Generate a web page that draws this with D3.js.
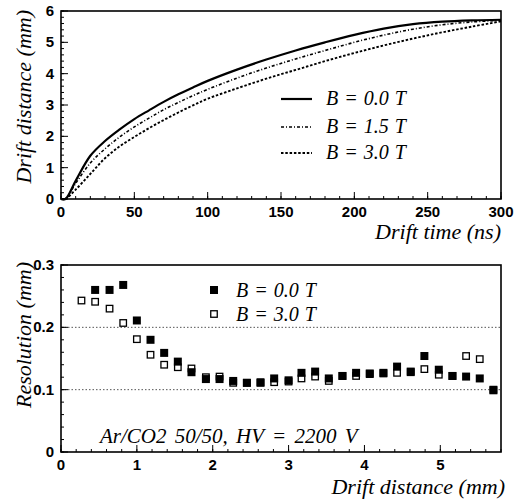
<!DOCTYPE html>
<html><head><meta charset="utf-8">
<script src="https://cdn.jsdelivr.net/npm/d3@7"></script>
<style>body{margin:0;background:#fff}svg{display:block}</style>
</head><body>
<script>
// ---- Top panel data: drift distance vs drift time ----
const driftTime = [0,3,10,20,30,40,50,60,70,80,90,100,120,140,160,180,200,220,240,260,280,300];
const distB00 = [0,0,0.58,1.38,1.85,2.22,2.55,2.83,3.10,3.34,3.56,3.77,4.13,4.45,4.74,5.00,5.24,5.44,5.58,5.66,5.70,5.72];
const distB15 = [0,0,0.50,1.15,1.60,1.98,2.30,2.58,2.85,3.08,3.30,3.50,3.86,4.18,4.47,4.74,5.00,5.23,5.42,5.56,5.65,5.70];
const distB30 = [0,0,0.30,0.80,1.30,1.68,1.98,2.26,2.52,2.76,2.99,3.20,3.53,3.84,4.12,4.40,4.66,4.90,5.12,5.32,5.50,5.67];
const topLegend = ["B = 0.0 T","B = 1.5 T","B = 3.0 T"];
const topXTicks = [0,50,100,150,200,250,300];
const topYTicks = [0,1,2,3,4,5,6];

// ---- Bottom panel data: resolution vs drift distance ----
const resDist = [0.27,0.45,0.64,0.82,1.00,1.18,1.36,1.54,1.72,1.91,2.09,2.27,2.45,2.63,2.81,3.00,3.17,3.35,3.53,3.71,3.89,4.07,4.25,4.43,4.61,4.79,4.98,5.16,5.34,5.52,5.70];
const resB00 = [null,0.260,0.260,0.268,0.211,0.180,0.159,0.145,0.128,0.117,0.117,0.114,0.111,0.111,0.118,0.115,0.127,0.129,0.118,0.122,0.127,0.126,0.127,0.137,0.129,0.154,0.132,0.122,0.121,0.118,0.099];
const resB30 = [0.243,0.241,0.230,0.207,0.181,0.156,0.140,0.136,0.134,0.120,0.121,0.111,0.111,0.112,0.112,0.113,0.118,0.121,0.114,0.122,0.122,0.125,0.126,0.127,0.128,0.133,0.124,0.122,0.154,0.149,0.100];
const botLegend = ["B = 0.0 T","B = 3.0 T"];
const botXTicks = [0,1,2,3,4,5];
const botYTicks = [0,0.1,0.2,0.3];
const botYLabels = ["0","0.1","0.2","0.3"];
const annotation = "Ar/CO2 50/50, HV = 2200 V";

const W = 522, H = 500;
const svg = d3.select("body").append("svg").attr("width", W).attr("height", H);
const serif = "'Liberation Serif','Times New Roman',serif";
const sans = "'Liberation Sans',Arial,sans-serif";

function frame(x, y) {
  const [x0, x1] = x.range(), [y0, y1] = y.range();
  svg.append("rect").attr("x", x0).attr("y", y1).attr("width", x1 - x0).attr("height", y0 - y1)
    .attr("fill", "none").attr("stroke", "#000").attr("stroke-width", 1.6);
}
function ticksAxis(x, y, xMajor, xMinorStep, yMajor, yMinorStep, yFmt) {
  const [x0, x1] = x.range(), [y0, y1] = y.range();
  const g = svg.append("g").attr("stroke", "#000").attr("stroke-width", 1);
  const xd = x.domain(), yd = y.domain();
  for (let v = xd[0]; v <= xd[1] + 1e-9; v += xMinorStep) {
    g.append("line").attr("x1", x(v)).attr("x2", x(v)).attr("y1", y0).attr("y2", y0 - 3);
  }
  xMajor.forEach(v => g.append("line").attr("x1", x(v)).attr("x2", x(v)).attr("y1", y0).attr("y2", y0 - 7));
  for (let v = yd[0]; v <= yd[1] + 1e-9; v += yMinorStep) {
    g.append("line").attr("x1", x0).attr("x2", x0 + 3).attr("y1", y(v)).attr("y2", y(v));
  }
  yMajor.forEach(v => g.append("line").attr("x1", x0).attr("x2", x0 + 7).attr("y1", y(v)).attr("y2", y(v)));
  svg.append("g").selectAll("text").data(xMajor).join("text")
    .attr("x", d => x(d)).attr("y", y0 + 18).attr("text-anchor", "middle")
    .attr("font-family", sans).attr("font-weight", "bold").attr("font-size", 15)
    .text(d => d);
  svg.append("g").selectAll("text").data(yMajor).join("text")
    .attr("x", x0 - 7).attr("y", d => y(d) + 5).attr("text-anchor", "end")
    .attr("font-family", sans).attr("font-weight", "bold").attr("font-size", 15)
    .text((d, i) => yFmt ? yFmt[i] : d);
}

// ---------- Top panel ----------
const xT = d3.scaleLinear().domain([0, 300]).range([61, 501]);
const yT = d3.scaleLinear().domain([0, 6]).range([199, 11]);
const lineT = arr => d3.line().x((d, i) => xT(driftTime[i])).y(d => yT(d)).curve(d3.curveCatmullRom.alpha(0.5))(arr);
const styles = [
  {dash: null, w: 2.2},
  {dash: "3,2,1,2", w: 1.6},
  {dash: "2.5,1.8", w: 1.9}
];
[distB00, distB15, distB30].forEach((arr, k) => {
  svg.append("path").attr("d", lineT(arr)).attr("fill", "none").attr("stroke", "#000")
    .attr("stroke-width", styles[k].w).attr("stroke-dasharray", styles[k].dash);
});
frame(xT, yT);
ticksAxis(xT, yT, topXTicks, 10, topYTicks, 0.2);
const legY = [99, 127, 153];
topLegend.forEach((t, k) => {
  svg.append("line").attr("x1", 281).attr("x2", 312).attr("y1", legY[k]).attr("y2", legY[k])
    .attr("stroke", "#000").attr("stroke-width", styles[k].w).attr("stroke-dasharray", styles[k].dash);
  svg.append("text").attr("x", 326).attr("y", legY[k] + 6).attr("font-family", serif)
    .attr("font-style", "italic").attr("font-size", 20).attr("word-spacing", 1).text(t);
});
svg.append("text").attr("x", 501).attr("y", 239).attr("text-anchor", "end")
  .attr("font-family", serif).attr("font-style", "italic").attr("font-size", 22).text("Drift time (ns)");
svg.append("text").attr("transform", "translate(31,10) rotate(-90)").attr("text-anchor", "end")
  .attr("font-family", serif).attr("font-style", "italic").attr("font-size", 22).text("Drift distance (mm)");

// ---------- Bottom panel ----------
const xB = d3.scaleLinear().domain([0, 5.8]).range([61, 501]);
const yB = d3.scaleLinear().domain([0, 0.3]).range([452, 265]);
[0.1, 0.2].forEach(v => svg.append("line").attr("x1", xB(0)).attr("x2", xB(5.8)).attr("y1", yB(v)).attr("y2", yB(v))
  .attr("stroke", "#555").attr("stroke-width", 1).attr("stroke-dasharray", "1.5,2"));
const pts30 = resDist.map((d, i) => [d, resB30[i]]).filter(p => p[1] != null);
const pts00 = resDist.map((d, i) => [d, resB00[i]]).filter(p => p[1] != null);
const so = 6.5, sf = 8;
svg.append("g").selectAll("rect").data(pts30).join("rect")
  .attr("x", d => xB(d[0]) - so / 2).attr("y", d => yB(d[1]) - so / 2).attr("width", so).attr("height", so)
  .attr("fill", "#fff").attr("stroke", "#000").attr("stroke-width", 1.3);
svg.append("g").selectAll("rect").data(pts00).join("rect")
  .attr("x", d => xB(d[0]) - sf / 2).attr("y", d => yB(d[1]) - sf / 2).attr("width", sf).attr("height", sf)
  .attr("fill", "#000");
frame(xB, yB);
ticksAxis(xB, yB, botXTicks, 0.2, botYTicks, 0.02, botYLabels);
// legend
svg.append("rect").attr("x", 214 - sf / 2).attr("y", 290 - sf / 2).attr("width", sf).attr("height", sf).attr("fill", "#000");
svg.append("rect").attr("x", 214 - so / 2).attr("y", 314 - so / 2).attr("width", so).attr("height", so)
  .attr("fill", "#fff").attr("stroke", "#000").attr("stroke-width", 1.3);
botLegend.forEach((t, k) => svg.append("text").attr("x", 236).attr("y", [297, 321][k])
  .attr("font-family", serif).attr("font-style", "italic").attr("font-size", 20).attr("word-spacing", 1).text(t));
svg.append("text").attr("x", 100).attr("y", 443).attr("font-family", serif).attr("font-style", "italic")
  .attr("font-size", 21).attr("word-spacing", 3).text(annotation);
svg.append("text").attr("x", 505).attr("y", 494).attr("text-anchor", "end")
  .attr("font-family", serif).attr("font-style", "italic").attr("font-size", 22).text("Drift distance (mm)");
svg.append("text").attr("transform", "translate(31,262) rotate(-90)").attr("text-anchor", "end")
  .attr("font-family", serif).attr("font-style", "italic").attr("font-size", 22).text("Resolution (mm)");
</script>
</body></html>
